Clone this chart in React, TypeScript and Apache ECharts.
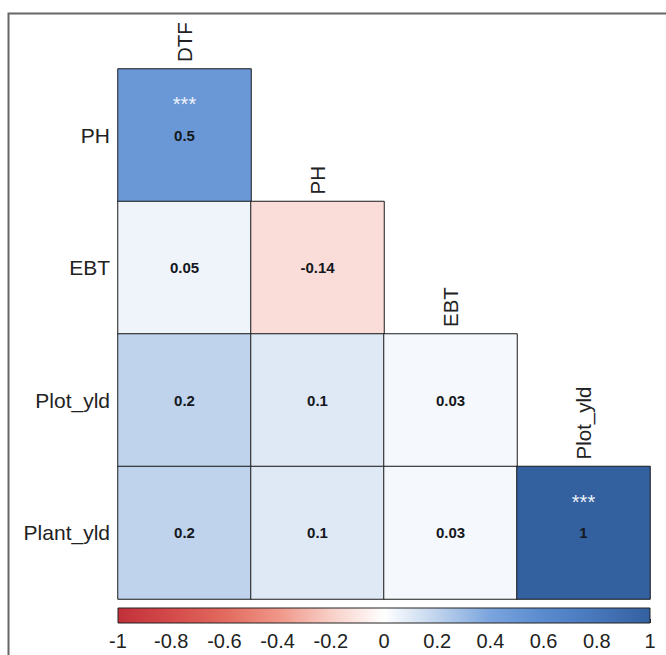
import React, { useEffect, useRef } from "react";
import * as echarts from "echarts";

const colCategories = ["DTF", "PH", "EBT", "Plot_yld"];
const rowCategories = ["PH", "EBT", "Plot_yld", "Plant_yld"];
// [colIndex, rowIndex, r]
const cellValues: [number, number, number][] = [
  [0, 0, 0.5],
  [0, 1, 0.05],
  [1, 1, -0.14],
  [0, 2, 0.2],
  [1, 2, 0.1],
  [2, 2, 0.03],
  [0, 3, 0.2],
  [1, 3, 0.1],
  [2, 3, 0.03],
  [3, 3, 1],
];
const significant: [number, number, string][] = [
  [0, 0, "***"],
  [3, 3, "***"],
];
// top cell of each column, where the column label sits
const colLabelCells: [number, number, string][] = [
  [0, 0, "DTF"],
  [1, 1, "PH"],
  [2, 2, "EBT"],
  [3, 3, "Plot_yld"],
];
const paletteStops = [
  "#C1303A", "#D44A4A", "#E26A5E", "#EF9587", "#F8CFC7", "#FFFFFF",
  "#BFD3ED", "#7AA4DD", "#5A8BCF", "#4776BB", "#33609F",
];
const colorbarRange = [-1, 1];
const colorbarTickStep = 0.2;

const FONT = "'Liberation Sans', Arial, sans-serif";

export default function App() {
  const ref = useRef<HTMLDivElement>(null);
  useEffect(() => {
    if (!ref.current) return;
    const chart = echarts.init(ref.current, null, { renderer: "svg" });
    const gradStops = paletteStops.map((c, i) => ({
      offset: i / (paletteStops.length - 1),
      color: c,
    }));
    chart.setOption({
      animation: false,
      backgroundColor: "#fff",
      textStyle: { fontFamily: FONT },
      graphic: [
        {
          type: "rect",
          left: 6,
          top: 11,
          shape: { width: 720, height: 720 },
          style: { fill: "none", stroke: "#666", lineWidth: 2 },
          silent: true,
          z: -10,
        },
      ],
      grid: [
        { left: 118, top: 69, width: 532, height: 530 },
        { left: 118, top: 608, width: 532, height: 15 },
      ],
      xAxis: [
        {
          type: "category",
          gridIndex: 0,
          data: colCategories,
          axisLine: { show: false },
          axisTick: { show: false },
          axisLabel: { show: false },
          splitLine: { show: false },
        },
        {
          type: "value",
          gridIndex: 1,
          min: colorbarRange[0],
          max: colorbarRange[1],
          interval: colorbarTickStep,
          position: "bottom",
          axisLine: { show: false },
          axisTick: {
            show: true,
            inside: true,
            length: 4,
            lineStyle: { color: "#333", width: 1 },
          },
          splitLine: { show: false },
          axisLabel: {
            margin: 8,
            fontSize: 20,
            color: "#222",
            fontFamily: FONT,
            formatter: (v: number) => String(+v.toFixed(1)),
          },
        },
      ],
      yAxis: [
        {
          type: "category",
          gridIndex: 0,
          data: rowCategories,
          inverse: true,
          axisLine: { show: false },
          axisTick: { show: false },
          splitLine: { show: false },
          axisLabel: {
            margin: 8,
            fontSize: 21,
            color: "#222",
            fontFamily: FONT,
          },
        },
        {
          type: "value",
          gridIndex: 1,
          min: 0,
          max: 1,
          show: false,
        },
      ],
      visualMap: {
        type: "continuous",
        show: false,
        min: colorbarRange[0],
        max: colorbarRange[1],
        dimension: 2,
        seriesIndex: 0,
        inRange: { color: paletteStops },
      },
      series: [
        {
          type: "heatmap",
          xAxisIndex: 0,
          yAxisIndex: 0,
          data: cellValues,
          itemStyle: { borderColor: "#1a1a1a", borderWidth: 1 },
          label: {
            show: true,
            fontSize: 15,
            fontWeight: "bold",
            color: "#141820",
            fontFamily: FONT,
            formatter: (p: any) => String(p.value[2]),
          },
          emphasis: { disabled: true },
        },
        {
          type: "custom",
          xAxisIndex: 0,
          yAxisIndex: 0,
          data: significant,
          z: 10,
          renderItem: (params: any, api: any) => {
            const c = api.coord([api.value(0), api.value(1)]);
            return {
              type: "text",
              x: c[0],
              y: c[1] - 31,
              style: {
                text: significant[params.dataIndex][2],
                fill: "#eef3fb",
                fontSize: 20,
                fontFamily: FONT,
                textAlign: "center",
                textVerticalAlign: "middle",
              },
            };
          },
        },
        {
          type: "custom",
          xAxisIndex: 0,
          yAxisIndex: 0,
          data: colLabelCells,
          z: 10,
          renderItem: (params: any, api: any) => {
            const c = api.coord([api.value(0), api.value(1)]);
            const s = api.size([1, 1]);
            return {
              type: "text",
              x: c[0],
              y: c[1] - s[1] / 2 - 7,
              rotation: Math.PI / 2,
              style: {
                text: colLabelCells[params.dataIndex][2],
                fill: "#222",
                fontSize: 20.5,
                fontFamily: FONT,
                textAlign: "left",
                textVerticalAlign: "middle",
              },
            };
          },
        },
        {
          type: "custom",
          xAxisIndex: 1,
          yAxisIndex: 1,
          data: [[colorbarRange[0], colorbarRange[1]]],
          renderItem: (params: any, api: any) => {
            const p0 = api.coord([api.value(0), 1]);
            const p1 = api.coord([api.value(1), 0]);
            return {
              type: "rect",
              shape: {
                x: p0[0],
                y: p0[1],
                width: p1[0] - p0[0],
                height: p1[1] - p0[1],
              },
              style: {
                fill: new echarts.graphic.LinearGradient(0, 0, 1, 0, gradStops),
                stroke: "#222",
                lineWidth: 1,
              },
              z2: -1,
            };
          },
        },
      ],
    });
    return () => chart.dispose();
  }, []);
  return (
    <div
      ref={ref}
      style={{ position: "fixed", left: 0, top: 0, width: 666, height: 655 }}
    />
  );
}
